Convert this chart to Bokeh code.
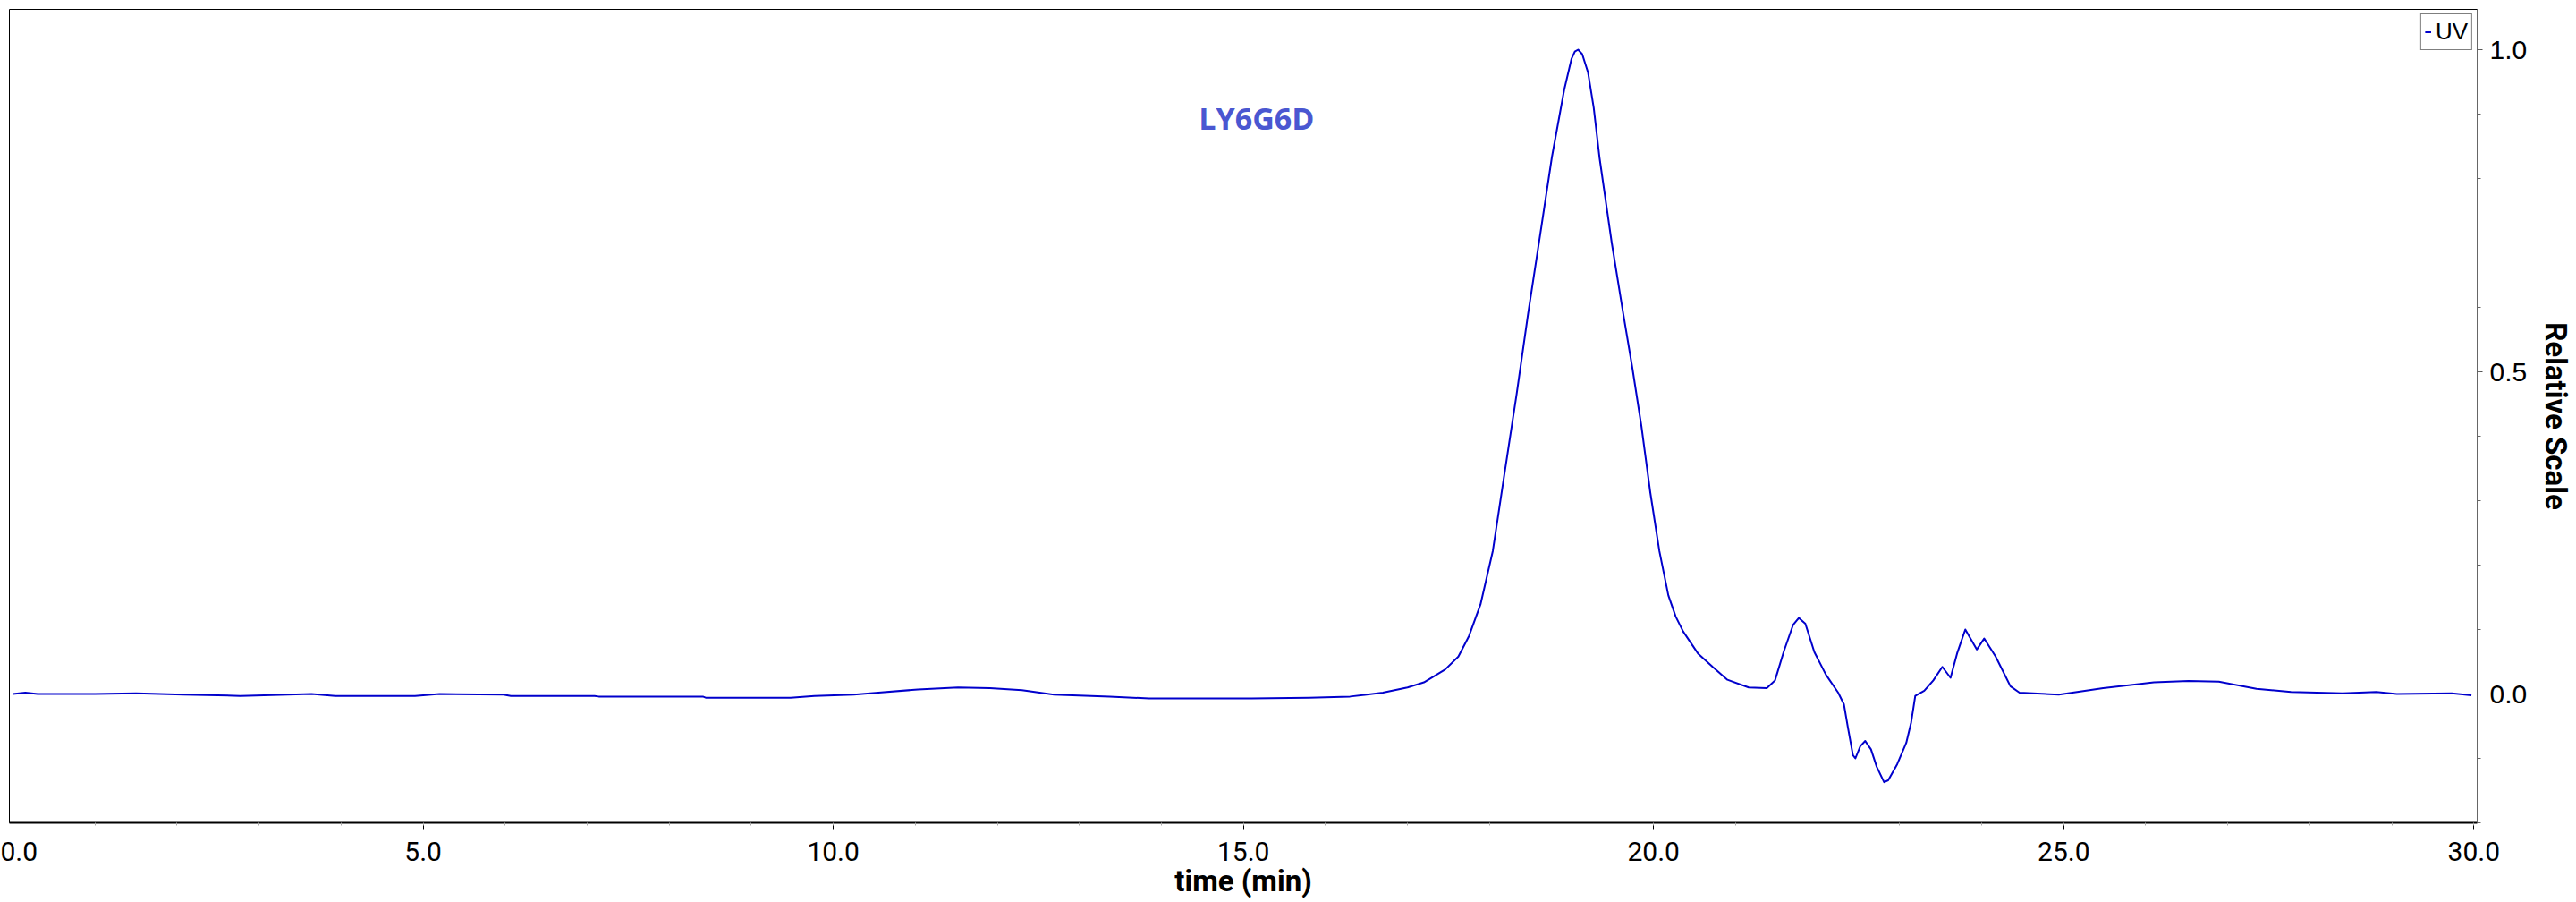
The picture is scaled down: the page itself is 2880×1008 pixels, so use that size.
from bokeh.plotting import figure
from bokeh.models import (Range1d, SingleIntervalTicker, PrintfTickFormatter,
                          Legend, LegendItem, Label, ColumnDataSource)
from bokeh.embed import file_html
from bokeh.resources import INLINE

# ---- data ----
time_min = [0.00, 0.15, 0.30, 1.00, 1.50, 2.08, 2.77, 3.64, 3.93, 4.90, 5.20, 5.98,
            6.07, 7.09, 7.14, 8.41, 8.45, 9.48, 9.77, 10.25, 10.55, 11.03, 11.52,
            11.91, 12.30, 12.69, 13.37, 13.85, 15.10, 15.80, 16.30, 16.70, 17.00,
            17.20, 17.46, 17.62, 17.75, 17.89, 18.04, 18.18, 18.33, 18.47, 18.62,
            18.76, 18.91, 19.00, 19.04, 19.08, 19.13, 19.20, 19.27, 19.34, 19.49,
            19.63, 19.74, 19.85, 19.96, 20.07, 20.18, 20.27, 20.36, 20.54, 20.72,
            20.90, 21.16, 21.38, 21.48, 21.59, 21.70, 21.77, 21.85, 21.96, 22.10,
            22.25, 22.32, 22.37, 22.43, 22.46, 22.52, 22.58, 22.65, 22.72, 22.81,
            22.86, 22.97, 23.08, 23.14, 23.19, 23.30, 23.41, 23.52, 23.62, 23.70,
            23.80, 23.94, 24.03, 24.17, 24.35, 24.46, 24.94, 25.48, 26.10, 26.52,
            26.89, 27.35, 27.77, 28.40, 28.81, 29.06, 29.73, 29.97]
uv_signal = [0.000, 0.002, 0.000, 0.000, 0.001, -0.001, -0.003, 0.000, -0.003, -0.003,
             0.000, -0.001, -0.003, -0.003, -0.004, -0.004, -0.006, -0.006, -0.003,
             -0.001, 0.002, 0.007, 0.010, 0.009, 0.006, -0.001, -0.004, -0.007, -0.007,
             -0.006, -0.004, 0.002, 0.010, 0.018, 0.038, 0.058, 0.090, 0.139, 0.222,
             0.340, 0.465, 0.590, 0.715, 0.833, 0.9375, 0.986, 0.997, 1.000, 0.993,
             0.965, 0.910, 0.833, 0.700, 0.590, 0.507, 0.417, 0.3125, 0.222, 0.153,
             0.120, 0.097, 0.063, 0.042, 0.022, 0.010, 0.009, 0.021, 0.067, 0.107,
             0.118, 0.109, 0.065, 0.030, 0.002, -0.016, -0.053, -0.095, -0.100,
             -0.081, -0.073, -0.086, -0.113, -0.137, -0.134, -0.109, -0.076, -0.044,
             -0.003, 0.005, 0.021, 0.042, 0.025, 0.063, 0.100, 0.069, 0.086, 0.058,
             0.012, 0.002, -0.001, 0.009, 0.018, 0.020, 0.019, 0.008, 0.003, 0.001,
             0.003, 0.000, 0.001, -0.002]
series_name = "UV"
sample_name = "LY6G6D"
sample_label_pos = (15.16, 0.894)

x_title = "time (min)"
y_title = "Relative Scale"

# ---- figure ----
p = figure(width=2880, height=1008, output_backend="svg", toolbar_location=None,
           x_range=Range1d(-0.044, 30.04), y_range=Range1d(-0.2, 1.0625),
           y_axis_location="right",
           min_border_left=10, min_border_top=10,
           min_border_right=109, min_border_bottom=89)
p.grid.visible = False
p.background_fill_color = "white"
p.border_fill_color = "white"
p.outline_line_color = "black"
p.outline_line_width = 1

src = ColumnDataSource(dict(t=time_min, v=uv_signal))
r = p.line("t", "v", source=src, line_color="#0000cc", line_width=2,
           line_join="round")

# x axis
xa = p.xaxis[0]
xa.ticker = SingleIntervalTicker(interval=5, num_minor_ticks=5)
xa.formatter = PrintfTickFormatter(format="%.1f")
xa.axis_line_color = "black"
xa.axis_line_width = 2
xa.major_tick_in = 0
xa.major_tick_out = 7
xa.major_tick_line_color = "black"
xa.minor_tick_in = 0
xa.minor_tick_out = 3
xa.minor_tick_line_color = "#aaaaaa"
xa.major_label_text_font = "Roboto"
xa.major_label_text_font_size = "30px"
xa.major_label_text_color = "black"
xa.major_label_standoff = 14
xa.axis_label = x_title
xa.axis_label_text_font = "Roboto"
xa.axis_label_text_font_style = "bold"
xa.axis_label_text_font_size = "33px"
xa.axis_label_text_color = "black"
xa.axis_label_standoff = 0

# y axis (right)
ya = p.yaxis[0]
ya.ticker = SingleIntervalTicker(interval=0.5, num_minor_ticks=5)
ya.formatter = PrintfTickFormatter(format="%.1f")
ya.axis_line_color = "#666666"
ya.axis_line_width = 1
ya.major_tick_in = 0
ya.major_tick_out = 6
ya.major_tick_line_color = "#555555"
ya.minor_tick_in = 0
ya.minor_tick_out = 4
ya.minor_tick_line_color = "#666666"
ya.major_label_text_font = "Liberation Sans"
ya.major_label_text_font_size = "30px"
ya.major_label_text_color = "black"
ya.major_label_standoff = 8
ya.axis_label = y_title
ya.axis_label_text_font = "Roboto"
ya.axis_label_text_font_style = "bold"
ya.axis_label_text_font_size = "33px"
ya.axis_label_text_color = "black"
ya.axis_label_standoff = 10

# legend
legend = Legend(items=[LegendItem(label=series_name, renderers=[r])],
                location="top_right", margin=5, padding=4, spacing=0,
                glyph_width=7, glyph_height=31, label_height=31,
                label_standoff=5, label_text_font="Liberation Sans",
                label_text_font_size="26px", label_text_color="black",
                border_line_color="black", border_line_width=1,
                background_fill_color="white", background_fill_alpha=1)
p.add_layout(legend)

p.add_layout(Label(x=sample_label_pos[0], y=sample_label_pos[1], text=sample_name,
                   text_align="center", text_baseline="middle",
                   text_font="Open Sans", text_font_style="bold",
                   text_font_size="34px", text_color="#4a57d1"))

open("out.html", "w").write(file_html(p, INLINE))
